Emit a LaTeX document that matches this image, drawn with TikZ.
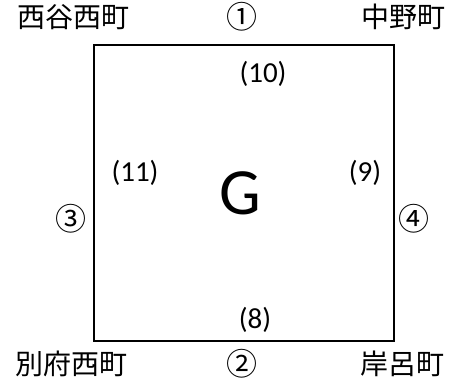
\documentclass[tikz,border=0pt]{standalone}
\usepackage{fontspec}
\newfontfamily\jpf{Noto Sans CJK JP}
\newfontfamily\calf{Carlito}
\begin{document}
\begin{tikzpicture}[x=1pt,y=1pt,
  jp/.style={font=\jpf\fontsize{28}{30}\selectfont, inner sep=0pt},
  num/.style={font=\jpf\fontsize{31}{33}\selectfont, inner sep=0pt},
  par/.style={font=\calf\fontsize{29}{31}\selectfont, inner sep=0pt},
  big/.style={font=\calf\fontsize{66}{70}\selectfont, inner sep=0pt}]
\useasboundingbox (0,0) rectangle (462,385);
\node[draw, line width=1.6pt, minimum width=300pt, minimum height=296pt, inner sep=0pt] (sq) at (244,192) {};
\node[jp] (nw) at (73,368) {西谷西町};
\node[num] (c1) at (242,368) {①};
\node[jp] (ne) at (403,368) {中野町};
\node[par] (p10) at (263,311) {(10)};
\node[par] (p11) at (135,212) {(11)};
\node[big] (g) at (240,192) {G};
\node[par] (p9) at (365,212) {(9)};
\node[num] (c3) at (71,166) {③};
\node[num] (c4) at (414,166) {④};
\node[par] (p8) at (255,65) {(8)};
\node[jp] (sw) at (71,21) {別府西町};
\node[num] (c2) at (242,21) {②};
\node[jp] (se) at (402,21) {岸呂町};
\end{tikzpicture}
\end{document}
